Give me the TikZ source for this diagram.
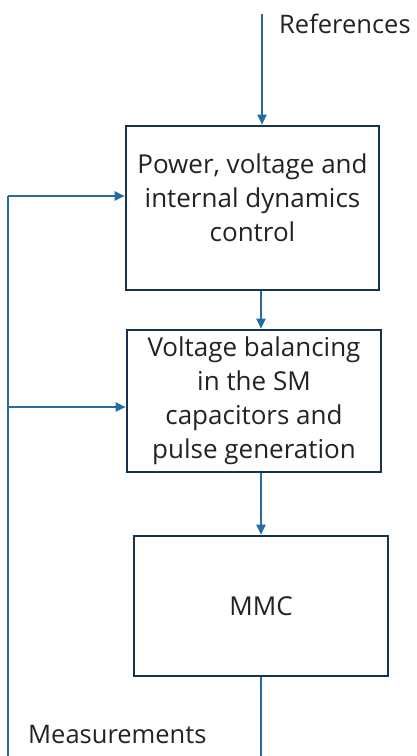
\documentclass[tikz,border=0pt]{standalone}
\usepackage{fontspec}
\setmainfont{Open Sans}
\usetikzlibrary{arrows.meta}
\definecolor{linkblue}{RGB}{38,108,160}
\definecolor{boxline}{RGB}{22,52,82}
\definecolor{txt}{RGB}{35,35,35}
\begin{document}
\begin{tikzpicture}[x=1pt,y=-1pt,
  block/.style={draw=boxline,line width=2.6pt,fill=white,inner sep=0pt},
  btext/.style={text=txt,align=center,inner sep=0pt,font=\fontsize{26}{34}\selectfont},
  flow/.style={draw=linkblue,line width=2pt,-{Triangle[length=10pt,width=9pt]}},
  wire/.style={draw=linkblue,line width=2pt},
  lbl/.style={text=txt,font=\fontsize{25.5}{30}\selectfont,inner sep=0pt}]
\useasboundingbox (0,0) rectangle (417,756);

% blocks of the control chain
\node[block,minimum width=253pt,minimum height=164pt] (ctrl) at (252.5,208) {};
\node[btext] (ctrltxt) at ([yshift=10pt]ctrl.center)
  {Power, voltage and\\internal dynamics\\control};
\node[block,minimum width=254pt,minimum height=142pt] (bal) at (254,401) {};
\node[btext] (baltxt) at (bal.center)
  {Voltage balancing\\in the SM\\capacitors and\\pulse generation};
\node[block,minimum width=254pt,minimum height=140pt] (mmc) at (261,606) {};
\node[btext] (mmctxt) at (mmc.center) {MMC};

% labels
\node[lbl,anchor=west] (reflbl) at (279,24) {References};
\node[lbl,anchor=west] (measlbl) at (28,735) {Measurements};

% feedback corners and free ends
\coordinate (refin) at (262,14);
\coordinate (mout) at (261,756);
\coordinate (fbbot) at (8,756);
\coordinate (fbtop) at (8,196);
\coordinate (fbmid) at (8,407);

% forward path
\draw[flow] (refin) -- (refin |- ctrl.north);
\draw[flow] (ctrl.south -| 261,0) -- (bal.north -| 261,0);
\draw[flow] (bal.south -| 261,0) -- (mmc.north -| 261,0);
\draw[wire] (mmc.south -| 261,0) -- (mout);

% measurement feedback
\draw[wire] (fbbot) -- (fbtop);
\draw[flow] (fbtop) -- (fbtop -| ctrl.west);
\draw[flow] (fbmid) -- (fbmid -| bal.west);
\end{tikzpicture}
\end{document}
